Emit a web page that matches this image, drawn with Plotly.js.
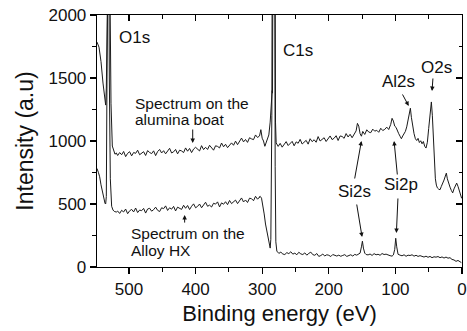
<!DOCTYPE html>
<html>
<head>
<meta charset="utf-8">
<script src="https://cdn.plot.ly/plotly-3.0.1.min.js"></script>
<style>html,body{margin:0;padding:0;background:#fff;}#chart{width:467px;height:331px;}</style>
</head>
<body>
<div id="chart"></div>
<script>
// Spectrum on the alumina boat (upper curve)
var aluminaEnergy = [
550,548,545,542,539,536,535,534,533,531.5,529.5,528.5,527,525,523,521,519,
517,514,511,508,505,502,499,496,493,490,
487,484,481,478,475,472,469,466,463,460,
457,454,451,448,445,442,439,436,433,430,
427,424,421,418,415,412,409,406,403,400,
397,394,391,388,385,382,379,376,373,370,
367,364,361,358,355,352,349,346,343,340,
337,334,331,328,325,322,319,316,313,310,
307,304,
302,300,298,296,294,292,290,288,286,285,284.5,283.5,281,280,279,
276,273,270,267,264,261,258,255,252,249,
246,243,240,237,234,231,228,225,222,219,
216,213,210,207,204,201,198,195,192,189,
186,183,180,177,174,171,168,165,162,
159,157,155,153,151,
149,146,143,140,137,134,131,128,125,122,119,116,113,110,
107,105,103,101,99,97,95,93,91,89,87,85,83,81,79,77.5,76,74,72,70,68,66,64,62,60,58,56,54,52,50,
48,46,44.5,43,41.5,40,38.5,37,35,33,31,29,27,25,23.5,22,20,18,16,14,12,10,8,6,4,2,0.5
];
var aluminaIntensity = [
1790,1785,1745,1630,1460,1310,1285,1420,2200,3200,3200,2200,1300,960,915,895,905,
885,908,891,917,876,902,915,882,909,902,
927,891,901,915,885,924,909,900,922,884,
916,933,905,923,898,918,942,905,914,933,
898,927,921,908,945,919,941,908,936,950,
931,921,963,932,950,933,966,948,927,962,
957,945,984,954,974,947,967,985,966,999,
971,995,1023,993,1012,989,1026,1017,1011,1048,
1028,1040,
1090,1022,1000,958,986,1022,1048,1150,1300,1400,1380,3200,3200,1150,985,
957,981,951,976,995,964,978,997,962,993,
982,1013,976,995,1005,975,1018,995,1010,990,
1035,1000,1013,1026,996,1024,1040,1011,1022,1042,
1004,1040,1036,1021,1059,1032,1053,1026,1053,
1080,1140,1118,1058,1038,
1076,1052,1089,1071,1066,1094,1078,1085,1069,1101,1083,1092,1110,1091,
1132,1180,1158,1118,1108,1078,1058,1038,1018,1040,1062,1076,1112,1170,1222,1260,1188,1108,1058,1018,1004,1021,988,1002,978,996,958,944,990,1100,
1230,1310,1200,988,818,700,650,628,618,613,640,662,690,722,745,700,660,634,608,588,620,652,666,640,600,560,545
];

// Spectrum on the Alloy HX (lower curve)
var alloyEnergy = [
550,548,546,544,542,540,538,536,535,534,533,532,530.5,529.5,528,526,524,522,519,
517,514,511,508,505,502,499,496,493,490,
487,484,481,478,475,472,469,466,463,460,
457,454,451,448,445,442,439,436,433,430,
427,424,421,418,415,412,409,406,403,400,
397,394,391,388,385,382,379,376,373,370,
367,364,361,358,355,352,349,346,343,340,
337,334,331,328,325,322,319,316,313,310,
307,304,
305,303,301,299,297,295,293,291,289,288,287,285.5,284.5,281.5,280.5,279.5,
278,275,272,269,266,263,260,257,254,251,
248,245,242,239,236,233,230,227,224,221,
218,215,212,209,206,203,200,197,194,191,
188,185,182,179,176,173,170,167,164,161,
158,155,
153,151,149.5,148,
146,144,141,138,135,132,129,126,123,120,117,114,111,108,105,103,
101,99.5,98,
96,93,90,87,84,81,78,75,72,69,66,63,60,57,54,51,48,45,42,39,36,33,30,27,24,21,18,15,12,9,6,3,1
];
var alloyIntensity = [
792,782,752,716,652,592,542,506,500,560,1500,3200,3200,1500,700,482,452,441,436,
444,425,450,437,460,423,446,457,437,468,
432,452,447,465,428,460,466,443,455,475,
450,440,470,463,485,449,470,459,481,445,
475,468,457,490,466,488,456,482,501,470,
481,500,470,492,514,482,491,476,506,499,
517,477,509,498,518,495,528,503,514,531,
503,529,548,516,532,512,546,542,526,561,
538,554,
551,561,546,491,421,341,281,221,171,150,220,1200,3600,3600,800,200,
126,108,118,103,99,114,106,121,102,110,
97,117,104,99,112,94,108,118,98,93,
107,84,91,102,88,97,93,83,99,90,
87,94,85,92,98,84,91,97,87,100,
94,104,
110,160,205,150,
110,99,96,103,92,106,97,101,93,107,99,102,94,90,86,96,
140,228,160,
101,94,89,97,85,94,91,97,86,93,84,90,87,79,86,77,84,74,81,78,83,74,80,71,79,70,74,60,56,45,52,38,35
];

var xTickVals = [500,400,300,200,100,0];
var yTickVals = [0,500,1000,1500,2000];
var peakLabels = ['O1s','C1s','Al2s','O2s','Si2s','Si2p'];

var lineStyle = {color:'#1a1a1a', width:1};
var traces = [
  {x:aluminaEnergy, y:aluminaIntensity, type:'scatter', mode:'lines', line:lineStyle, showlegend:false, hoverinfo:'skip'},
  {x:alloyEnergy, y:alloyIntensity, type:'scatter', mode:'lines', line:lineStyle, showlegend:false, hoverinfo:'skip'},
  {x:[null], y:[null], xaxis:'x2', yaxis:'y2', type:'scatter', mode:'lines', showlegend:false, hoverinfo:'skip'}
];

var FONT = 'Liberation Sans, Arial, sans-serif';
var tf = {family:FONT, size:17, color:'#111'};
var lf = {family:FONT, size:17, color:'#111'};
var sf = {family:FONT, size:15.5, color:'#111'};

function label(text, x, y, font, xanchor){
  return {text:text, x:x, y:y, xref:'x', yref:'y', showarrow:false, font:font, xanchor:xanchor||'center', yanchor:'middle'};
}
function arrow(x, y, ax, ay){
  return {text:'', x:x, y:y, xref:'x', yref:'y', ax:ax, ay:ay, showarrow:true, arrowhead:2, arrowsize:0.9, arrowwidth:1, arrowcolor:'#111', standoff:0, startstandoff:0};
}

var annotations = [
  label(peakLabels[0], 491, 1825, lf),
  label(peakLabels[1], 246, 1722, lf),
  label(peakLabels[2], 95, 1476, lf),
  label(peakLabels[3], 38, 1587, lf),
  label(peakLabels[4], 161, 603, lf),
  label(peakLabels[5], 92, 651, lf),
  label('Spectrum on the', 494.5, 1300, sf, 'left'),
  label('alumina boat', 494.5, 1168, sf, 'left'),
  label('Spectrum on the', 500.5, 265, sf, 'left'),
  label('Alloy HX', 500.5, 130, sf, 'left'),
  arrow(404.3, 984, 0, -15),
  arrow(416.4, 412, 0, 9),
  arrow(80, 1278, -7, -13),
  arrow(45, 1397, 1, -14),
  arrow(151, 1000, -7, 39),
  arrow(150, 238, -5.6, -34),
  arrow(102, 1000, 3.4, 35),
  arrow(98.5, 270, 1.6, -36)
];

var axisCommon = {showline:true, linecolor:'#000', linewidth:1.3, showgrid:false, zeroline:false, tickcolor:'#000', tickwidth:1.2, ticklen:6};

var layout = {
  width:467, height:331,
  margin:{l:97, r:5, t:15, b:64},
  paper_bgcolor:'#fff', plot_bgcolor:'#fff',
  font:{family:FONT, color:'#111'},
  xaxis:Object.assign({}, axisCommon, {range:[548,0], ticks:'outside', tickvals:xTickVals, tickfont:tf,
    minor:{dtick:50, tick0:0, ticks:'outside', ticklen:3.5, tickcolor:'#000', tickwidth:1},
    title:{text:'Binding energy (eV)', font:{family:FONT, size:22, color:'#111'}, standoff:8}}),
  yaxis:Object.assign({}, axisCommon, {range:[0,2000], ticks:'outside', tickvals:yTickVals, tickfont:tf,
    minor:{dtick:250, tick0:0, ticks:'outside', ticklen:3.5, tickcolor:'#000', tickwidth:1},
    title:{text:'Intensity (a.u)', font:{family:FONT, size:23, color:'#111'}, standoff:8}}),
  xaxis2:Object.assign({}, axisCommon, {overlaying:'x', side:'top', range:[548,0], ticks:'inside', tickvals:xTickVals, showticklabels:false,
    minor:{dtick:50, tick0:0, ticks:'inside', ticklen:3.5, tickcolor:'#000', tickwidth:1}}),
  yaxis2:Object.assign({}, axisCommon, {overlaying:'y', side:'right', range:[0,2000], ticks:'inside', tickvals:yTickVals, showticklabels:false,
    minor:{dtick:250, tick0:0, ticks:'inside', ticklen:3.5, tickcolor:'#000', tickwidth:1}}),
  annotations:annotations
};

Plotly.newPlot('chart', traces, layout, {displayModeBar:false, staticPlot:true});
</script>
</body>
</html>
